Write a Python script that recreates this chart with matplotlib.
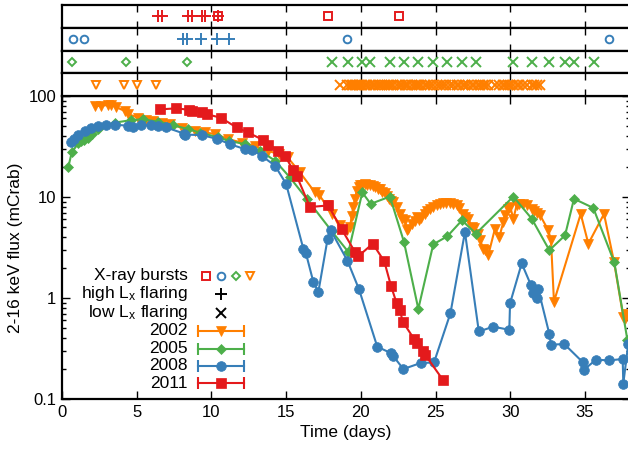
import numpy as np
import matplotlib
matplotlib.use('Agg')
import matplotlib.pyplot as plt
from matplotlib.ticker import FixedLocator, LogLocator, NullFormatter, FuncFormatter

plt.rcParams['font.family'] = ['Liberation Sans', 'DejaVu Sans']
plt.rcParams['mathtext.fontset'] = 'custom'
plt.rcParams['mathtext.rm'] = 'Liberation Sans'
plt.rcParams['mathtext.it'] = 'Liberation Sans'
plt.rcParams['font.size'] = 12

C_2002 = '#ff7f00'
C_2005 = '#4daf4a'
C_2008 = '#377eb8'
C_2011 = '#e41a1c'

# light curves (days, mCrab)
t_2002 = [2.21, 2.6, 3.1, 3.3, 3.6, 4.2, 4.44, 5.1, 5.6, 6.1, 6.67, 7.23, 8.0, 8.9,
          9.57, 10.24, 11.13, 12.03, 12.9, 13.8, 14.5, 15.1, 15.93, 16.93, 17.2,
          17.72, 18.1, 18.6, 19.1, 19.28, 19.39, 19.5, 19.61, 19.72, 19.85, 19.95,
          20.1, 20.25, 20.4, 20.6, 20.8, 20.95, 21.17, 21.3, 21.45, 21.6, 21.73,
          21.9, 22.03, 22.17, 22.4, 22.62, 22.75, 22.96, 23.07, 23.18, 23.4, 23.6,
          23.74, 23.9, 24.05, 24.3, 24.45, 24.63, 24.85, 25.1, 25.3, 25.52, 25.7,
          25.97, 26.2, 26.42, 26.6, 26.86, 27.0, 27.2, 27.42, 27.6, 27.87, 27.98,
          28.2, 28.3, 28.53, 28.98, 29.27, 29.54, 29.65, 29.87, 30.0, 30.21, 30.43,
          30.6, 30.88, 31.1, 31.44, 31.6, 31.8, 32.0, 32.55, 32.73, 32.93, 34.72,
          35.23, 36.28, 36.95, 37.57, 37.7, 37.85]
f_2002 = [79.6, 80, 81.5, 81.5, 78, 71, 66, 61, 58, 56, 54.6, 52.6, 48.7, 45.3,
          43.6, 42, 37.4, 34.6, 32, 28.7, 26.5, 24.7, 17.5, 11.1, 10.5,
          8.25, 6.8, 5.25, 4.7, 5.0, 6.5, 8.0, 9.6, 11.4, 12.5, 13.0,
          13.2, 13.4, 13.2, 13.0, 12.9, 12.7, 12.0, 12.1, 11.2, 11.0, 10.3,
          9.6, 9.1, 8.9, 7.9, 6.8, 6.1, 5.87, 4.7, 4.86, 5.4, 5.8,
          6.3, 5.9, 6.2, 6.8, 7.2, 7.66, 8.0, 8.4, 8.55, 8.7, 8.8,
          8.8, 8.6, 8.25, 7.7, 6.8, 6.4, 6.1, 5.05, 4.9, 4.34, 3.73,
          3.09, 3.0, 2.65, 4.86, 4.0, 5.65, 6.6, 7.66, 8.0, 6.1, 8.25,
          8.5, 8.55, 8.4, 7.66, 7.3, 7.0, 6.6, 4.68, 3.73, 0.92, 6.8,
          3.45, 6.8, 2.28, 0.65, 0.62, 0.7]

t_2005 = [0.42, 0.65, 1.09, 1.3, 1.5, 1.76, 2.0, 2.43, 3.55, 4.62, 5.44, 6.45, 7.45,
          8.45, 9.24, 10.46, 11.2, 12.25, 13.25, 14.26, 15.26, 16.38, 18.05, 19.17,
          20.1, 20.66, 21.95, 22.89, 23.85, 24.85, 25.79, 26.77, 27.71, 30.21, 31.44,
          32.62, 33.67, 34.27, 35.56, 36.97, 37.85]
f_2005 = [19.7, 27.6, 34, 35.5, 37, 38.7, 42, 47.6, 54.6, 57.6, 58.9, 55.5, 51.4,
          46.9, 43.4, 38.9, 36, 33.3, 28.7, 22.9, 15.6, 9.6, 4.6, 2.85,
          11.1, 8.55, 10.1, 3.59, 0.78, 3.4, 4.08, 5.87, 4.34, 10.1, 6.1,
          2.97, 4.17, 9.6, 7.8, 2.25, 0.38]

t_2008 = [0.62, 0.8, 1.07, 1.52, 1.96, 2.41, 2.97, 3.53, 4.42, 4.75, 5.31, 5.98, 6.43,
          6.98, 8.15, 8.25, 9.35, 10.4, 11.24, 12.25, 12.7, 13.36, 14.26, 15.0, 16.15,
          16.33, 16.82, 17.16, 17.78, 17.98, 19.1, 19.88, 21.1, 22.0, 22.18, 22.85,
          24.0, 24.9, 26.0, 26.97, 27.9, 28.87, 29.94, 29.99, 30.77, 31.39, 31.55,
          31.77, 31.88, 32.62, 32.73, 33.62, 34.85, 34.94, 35.74, 36.63, 37.53,
          37.57, 37.9]
f_2008 = [34.7, 37.4, 41, 45.2, 48.2, 50, 52, 52, 50.8, 49.6, 52, 51.5, 50,
          48.8, 42.5, 41.5, 41, 37.6, 33.3, 29.8, 29.4, 25.6, 20.4, 13.5, 3.09,
          2.76, 1.45, 1.15, 3.87, 4.7, 2.35, 1.22, 0.33, 0.285, 0.265, 0.198,
          0.227, 0.23, 0.707, 4.5, 0.466, 0.52, 0.484, 0.886, 2.2, 1.34, 1.11,
          0.99, 1.22, 0.44, 0.345, 0.35, 0.232, 0.195, 0.245, 0.241, 0.249,
          0.142, 0.35]

t_2011 = [6.55, 7.66, 8.5, 8.68, 9.37, 9.69, 10.62, 11.69, 12.43, 13.48, 13.82, 14.48,
          14.93, 15.48, 15.7, 16.6, 17.82, 18.72, 19.61, 19.83, 20.8, 21.57, 22.02,
          22.4, 22.62, 22.8, 23.58, 23.74, 24.18, 24.3, 25.52]
f_2011 = [73.7, 75.5, 73, 71, 69.5, 66, 61, 48.8, 43.6, 36.6, 33, 28.7,
          25.6, 18.3, 16.3, 7.96, 8.25, 4.8, 2.86, 2.59, 3.45, 2.31, 1.32,
          0.886, 0.76, 0.585, 0.39, 0.36, 0.30, 0.275, 0.153]

# event times for the strips above
burst_2011 = [10.42, 17.78, 22.58]
high_2011 = [6.45, 6.67, 8.45, 8.68, 9.35, 9.57, 10.42]
burst_2008 = [0.76, 1.49, 19.1, 36.63]
high_2008 = [8.12, 8.34, 9.28, 10.39, 11.18]
burst_2005 = [0.69, 4.28, 8.34]
low_2005 = [18.05, 19.17, 20.06, 20.62, 21.95, 22.89, 23.85, 24.85, 25.79, 26.75,
            27.71, 30.21, 31.44, 32.62, 33.67, 34.27, 35.6]
burst_2002 = [2.28, 4.15, 5.04, 6.29]
low_2002_range = (18.5, 32.1)

years = ['2002', '2005', '2008', '2011']
colors = [C_2002, C_2005, C_2008, C_2011]
markers = ['v', 'D', 'o', 's']
msizes = [7, 5, 7, 6.5]

W, H = 628, 451
fig = plt.figure(figsize=(W / 100, H / 100), dpi=100)

x0 = 62
xmax = 38.0
px_per_day = 14.94
ax_w = xmax * px_per_day


def fig_rect(top, bottom):
    return [x0 / W, (H - bottom) / H, ax_w / W, (bottom - top) / H]


ax = fig.add_axes(fig_rect(96, 399))

series = [(t_2002, f_2002), (t_2005, f_2005), (t_2008, f_2008), (t_2011, f_2011)]
for (t, f), c, m, ms in zip(series, colors, markers, msizes):
    ax.plot(t, f, color=c, marker=m, markersize=ms, linewidth=1.5,
            markeredgewidth=0.5, markeredgecolor=c)

ax.set_yscale('log')
ax.set_xlim(0, xmax)
ax.set_ylim(0.1, 100)
ax.xaxis.set_major_locator(FixedLocator([0, 5, 10, 15, 20, 25, 30, 35]))
ax.yaxis.set_major_locator(FixedLocator([0.1, 1, 10, 100]))
ax.yaxis.set_minor_locator(LogLocator(base=10, subs=np.arange(2, 10)))
ax.yaxis.set_minor_formatter(NullFormatter())
ax.yaxis.set_major_formatter(FuncFormatter(lambda v, p: f'{v:g}'))
ax.tick_params(which='both', direction='in', top=True, right=True, width=1.0)
ax.tick_params(which='major', length=6, labelsize=12, pad=4)
ax.tick_params(which='minor', length=3)
for s in ax.spines.values():
    s.set_linewidth(1.6)
ax.set_xlabel('Time (days)', fontsize=12.5, labelpad=4)
ax.set_ylabel('2-16 keV flux (mCrab)', fontsize=12.5, labelpad=4)

# legend drawn by hand, gnuplot style
tr = ax.transAxes
tx = 0.222
fs = 12.5
rows = [0.406, 0.347, 0.285, 0.225, 0.166, 0.109, 0.052]
ax.text(tx, rows[0], 'X-ray bursts', transform=tr, ha='right', va='center', fontsize=fs)
ax.text(tx, rows[1], 'high L$_\\mathrm{x}$ flaring', transform=tr, ha='right', va='center', fontsize=fs)
ax.text(tx, rows[2], 'low L$_\\mathrm{x}$ flaring', transform=tr, ha='right', va='center', fontsize=fs)
for xm, c, m in zip([0.253, 0.280, 0.306, 0.332], [C_2011, C_2008, C_2005, C_2002],
                    ['s', 'o', 'D', 'v']):
    ax.plot([xm], [rows[0]], transform=tr, marker=m, markersize=5.5 if m != 'D' else 4.5,
            markerfacecolor='none', markeredgecolor=c, markeredgewidth=1.4, clip_on=False)
ax.plot([0.280], [rows[1]], transform=tr, marker='+', color='black', markersize=8,
        markeredgewidth=1.4, clip_on=False)
ax.plot([0.280], [rows[2]], transform=tr, marker='x', color='black', markersize=6.5,
        markeredgewidth=1.4, clip_on=False)
for i, (yr, c, m, ms) in enumerate(zip(years, colors, markers, msizes)):
    yy = rows[3 + i]
    ax.text(tx, yy, yr, transform=tr, ha='right', va='center', fontsize=fs)
    ax.plot([0.239, 0.321], [yy, yy], transform=tr, color=c, linewidth=1.5,
            marker='|', markersize=8, markeredgewidth=1.5, clip_on=False)
    ax.plot([0.280], [yy], transform=tr, color=c, marker=m, markersize=ms,
            markeredgewidth=0.5, clip_on=False)

# strips with burst / flaring markers
o_t = np.array(t_2002)
low_2002 = o_t[(o_t >= low_2002_range[0]) & (o_t <= low_2002_range[1])]

strips = [
    (5, 27.75, C_2011, 's', burst_2011, high_2011, None),
    (27.75, 50.5, C_2008, 'o', burst_2008, high_2008, None),
    (50.5, 73.25, C_2005, 'D', burst_2005, None, low_2005),
    (73.25, 96, C_2002, 'v', burst_2002, None, low_2002),
]
for top, bottom, c, m, bursts, high, low in strips:
    sa = fig.add_axes(fig_rect(top, bottom))
    sa.set_xlim(0, xmax)
    sa.set_ylim(0, 1)
    sa.plot(bursts, [0.5] * len(bursts), linestyle='none', marker=m,
            markersize=5.5 if m != 'D' else 4.5, markerfacecolor='none',
            markeredgecolor=c, markeredgewidth=1.4)
    if high is not None:
        sa.plot(high, [0.5] * len(high), linestyle='none', marker='+', color=c,
                markersize=8, markeredgewidth=1.4)
    if low is not None:
        sa.plot(low, [0.5] * len(low), linestyle='none', marker='x', color=c,
                markersize=6.5, markeredgewidth=1.4)
    sa.set_yticks([])
    sa.xaxis.set_major_locator(FixedLocator([5, 10, 15, 20, 25, 30, 35]))
    sa.tick_params(axis='x', direction='in', top=True, bottom=True, length=5,
                   width=1.0, labelbottom=False)
    for s in sa.spines.values():
        s.set_linewidth(1.6)

fig.savefig('out.png', dpi=100)
